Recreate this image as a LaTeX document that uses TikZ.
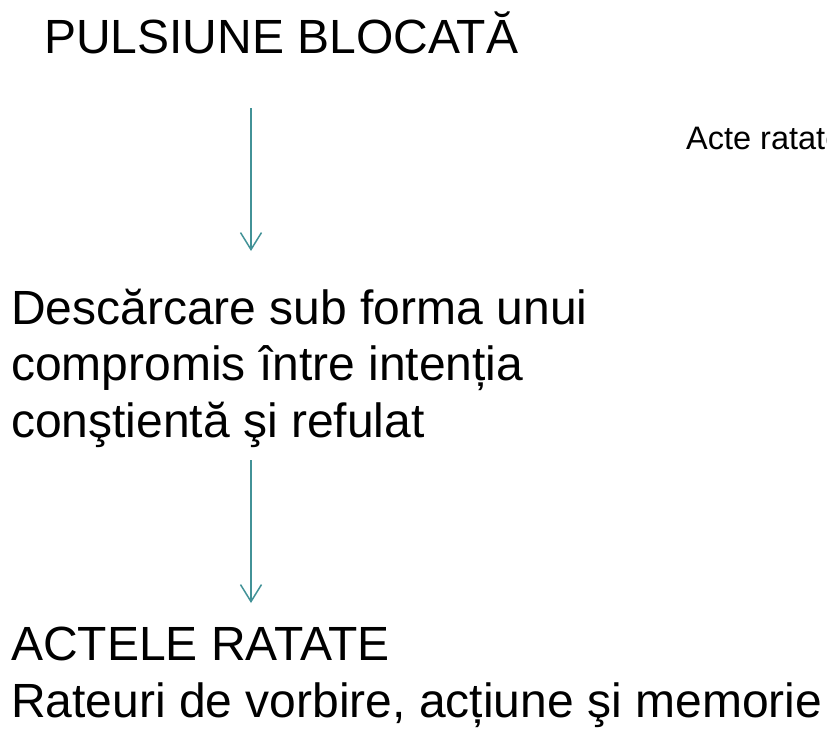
\documentclass[tikz,border=0pt]{standalone}
\usepackage{fontspec}
\setmainfont{Liberation Sans}
\usetikzlibrary{arrows.meta, positioning}

\begin{document}
\begin{tikzpicture}[
    x=1pt, y=-1pt,
    big/.style={inner sep=0pt, anchor=base west, align=left, font={\fontsize{48}{56.5}\selectfont}},
    small/.style={inner sep=0pt, anchor=base west, font={\fontsize{32.5}{38}\selectfont}},
    arrow/.style={-{Straight Barb[length=17pt, width=21pt]}, line width=1.5pt, draw={rgb,255:red,66;green,146;blue,151}}
]
\useasboundingbox (0,0) rectangle (827,728);
% multi-line nodes sit on the baseline of their last line
\node[big] (pulsiune) at (44,53) {PULSIUNE BLOCATĂ};
\node[small] (acte) at (686,149) {Acte ratate};
\node[big] (descarcare) at (11,437) {Descărcare sub forma unui\\compromis între intenția\\conştientă şi refulat};
\node[big] (actele) at (11,717) {ACTELE RATATE\\Rateuri de vorbire, acțiune şi memorie};

\coordinate (a1s) at (251,108);
\coordinate (a1e) at (251,251);
\coordinate (a2s) at (251,460);
\coordinate (a2e) at (251,603);
\draw[arrow] (a1s) -- (a1e);
\draw[arrow] (a2s) -- (a2e);
\end{tikzpicture}
\end{document}
